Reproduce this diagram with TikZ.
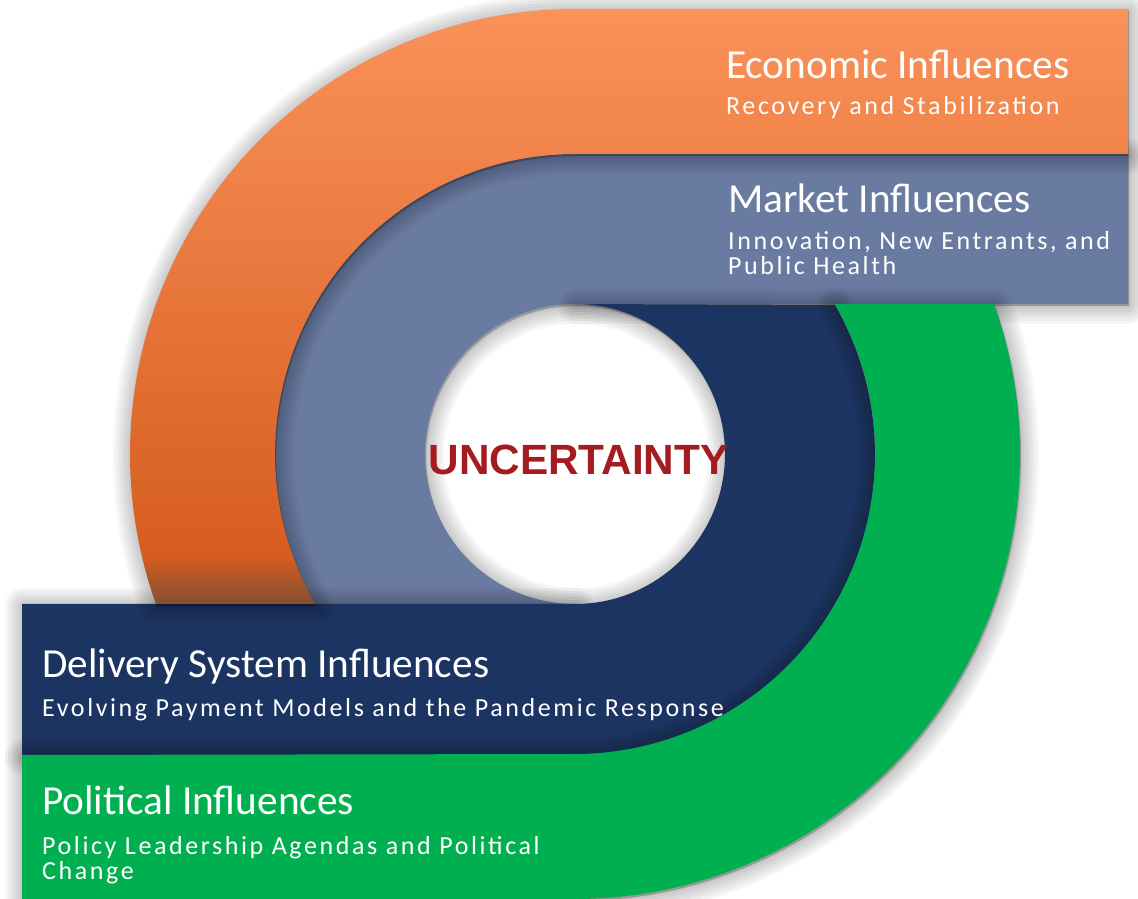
\documentclass[tikz,border=0pt]{standalone}
\usepackage{fontspec}
\setmainfont{Carlito}
\newfontfamily\subf[LetterSpace=10]{Carlito}
\newfontfamily\uncf{Liberation Sans}
\usetikzlibrary{fadings}
\definecolor{orTop}{HTML}{FA925A}
\definecolor{orMid}{HTML}{EF7C3C}
\definecolor{orBot}{HTML}{D3581A}
\definecolor{mkt}{HTML}{6A7BA2}
\definecolor{navyc}{HTML}{1C3461}
\definecolor{grn}{HTML}{00B050}
\definecolor{uncr}{HTML}{A51C20}
\definecolor{shgray}{HTML}{424A4E}
\newcommand{\softshadow}[1]{%
  \foreach \w in {36,30,24,18,12,6,2}{%
    \path[draw=black, fill=black, opacity=0.035, line width=\w pt, line join=round, shift={(1,-2)}] #1;}}
\def\mktpath{(1128,745) -- (575,745) arc[start angle=90,end angle=210,radius=300]
  -- (575,295) arc[start angle=270,end angle=90,radius=150] -- (1128,595) -- cycle}
\def\navpath{(22,144) -- (575,144) arc[start angle=-90,end angle=30,radius=300]
  -- (575,595) arc[start angle=90,end angle=-90,radius=150] -- (22,295) -- cycle}
\def\orangepath{(1128,890) -- (575,890) arc[start angle=90,end angle=199.70,radius=445]
  -- (315.19,295) arc[start angle=210,end angle=90,radius=300] -- (1128,745) -- cycle}
\def\grnpath{(22,0) -- (575,0) arc[start angle=-90,end angle=19.70,radius=445]
  -- (834.81,595) arc[start angle=30,end angle=-90,radius=300] -- (22,144) -- cycle}
\begin{document}
\begin{tikzpicture}[x=1pt,y=1pt,
  head/.style={anchor=base west, inner sep=0pt, text=white, font=\fontsize{41.3}{49}\selectfont},
  sub/.style={anchor=base west, inner sep=0pt, text=white, align=left, font=\subf\fontsize{26}{25}\selectfont}
]
\useasboundingbox (0,0) rectangle (1138,899);
\fill[white] (0,0) rectangle (1138,899);
% market band
\softshadow{\mktpath}
\fill[mkt] \mktpath;
% delivery band
\softshadow{\navpath}
\fill[navyc] \navpath;
% economic band
\softshadow{\orangepath}
\path[top color=orTop, middle color=orMid, bottom color=orBot] \orangepath;
\begin{scope}
  \clip \orangepath;
  \fill[shgray, opacity=0.55, path fading=north] (100,295) rectangle (340,342);
\end{scope}
% political band
\softshadow{\grnpath}
\fill[grn] \grnpath;
% texts
\node[head] (ecoT) at (726,820) {Economic Influences};
\node[sub] (ecoS) at (726,784) {Recovery and Stabilization};
\node[head] (mktT) at (728,686) {Market Influences};
\node[sub] (mktS) at (728,624) {Innovation, New Entrants, and\\Public Health};
\node[head] (delT) at (42,221) {Delivery System Influences};
\node[sub] (delS) at (42,182) {Evolving Payment Models and the Pandemic Response};
\node[head] (polT) at (42,84) {Political Influences};
\node[sub] (polS) at (42,19) {Policy Leadership Agendas and Political\\Change};
\node[anchor=base, inner sep=0pt, text=uncr, font=\uncf\bfseries\fontsize{42.3}{48}\selectfont] (unc) at (578.5,424) {UNCERTAINTY};
\end{tikzpicture}
\end{document}
